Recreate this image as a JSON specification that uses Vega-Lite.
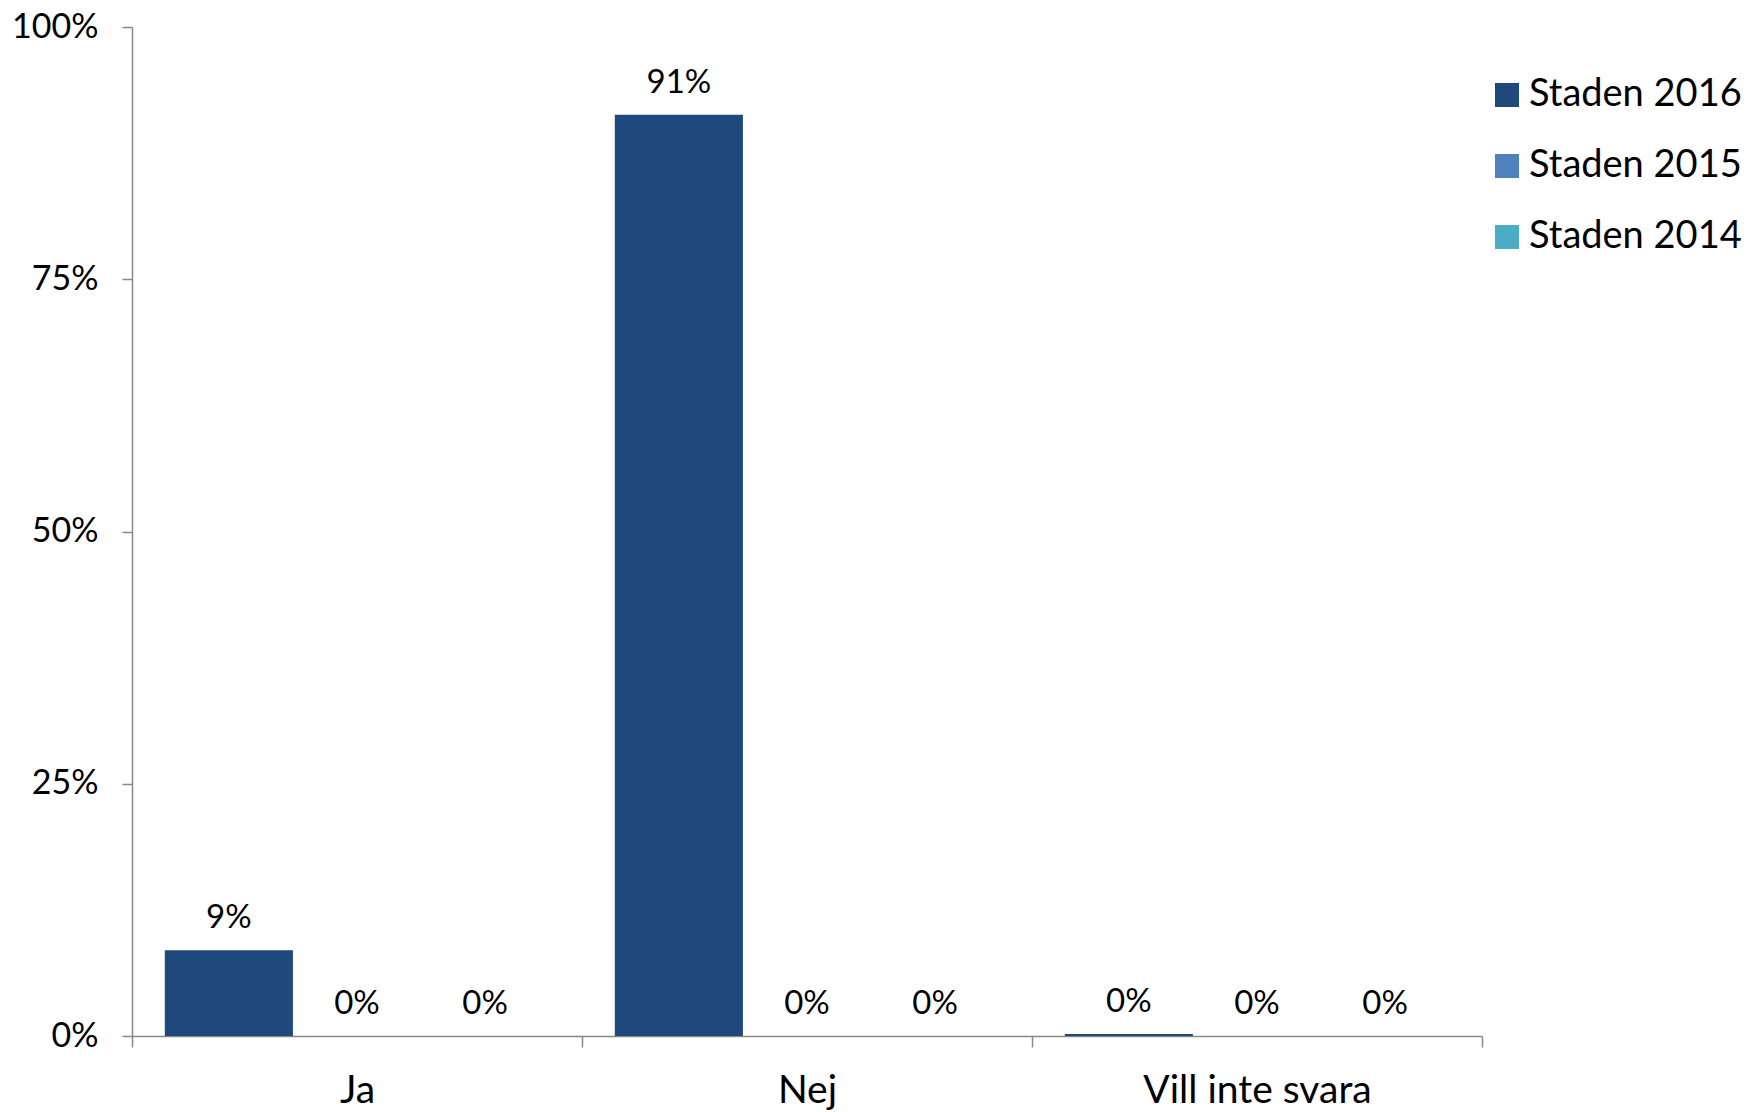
{
  "$schema": "https://vega.github.io/schema/vega-lite/v6.json",
  "width": 1350,
  "height": 1009,
  "padding": {"left": 132, "top": 27, "right": 268, "bottom": 76},
  "autosize": {"type": "none"},
  "background": "white",
  "config": {
    "view": {"stroke": null},
    "font": "Lato",
    "axis": {"domainColor": "#898989", "tickColor": "#898989", "domainWidth": 1.5, "tickWidth": 1.5, "labelColor": "#000000", "grid": false, "title": null, "labelLimit": 0}
  },
  "data": {
    "values": [
      {"svar": "Ja", "serie": "Staden 2016", "andel": 0.085, "etikett": "9%"},
      {"svar": "Ja", "serie": "Staden 2015", "andel": 0, "etikett": "0%"},
      {"svar": "Ja", "serie": "Staden 2014", "andel": 0, "etikett": "0%"},
      {"svar": "Nej", "serie": "Staden 2016", "andel": 0.913, "etikett": "91%"},
      {"svar": "Nej", "serie": "Staden 2015", "andel": 0, "etikett": "0%"},
      {"svar": "Nej", "serie": "Staden 2014", "andel": 0, "etikett": "0%"},
      {"svar": "Vill inte svara", "serie": "Staden 2016", "andel": 0.002, "etikett": "0%"},
      {"svar": "Vill inte svara", "serie": "Staden 2015", "andel": 0, "etikett": "0%"},
      {"svar": "Vill inte svara", "serie": "Staden 2014", "andel": 0, "etikett": "0%"}
    ]
  },
  "encoding": {
    "x": {
      "field": "svar", "type": "nominal", "sort": ["Ja", "Nej", "Vill inte svara"],
      "scale": {"paddingInner": 0, "paddingOuter": 0},
      "axis": {"labelAngle": 0, "tickBand": "extent", "tickSize": 11, "labelPadding": 24, "labelFontSize": 39, "labelBaseline": "top"}
    },
    "xOffset": {"field": "serie", "type": "nominal", "sort": ["Staden 2016", "Staden 2015", "Staden 2014"], "scale": {"paddingInner": 0, "paddingOuter": 0.256}},
    "y": {
      "field": "andel", "type": "quantitative",
      "scale": {"domain": [0, 1]},
      "axis": {"values": [0, 0.25, 0.5, 0.75, 1], "format": ".0%", "tickSize": 10, "labelPadding": 24, "labelFontSize": 34}
    }
  },
  "layer": [
    {
      "mark": {"type": "bar"},
      "encoding": {
        "color": {
          "field": "serie", "type": "nominal", "sort": ["Staden 2016", "Staden 2015", "Staden 2014"],
          "scale": {"domain": ["Staden 2016", "Staden 2015", "Staden 2014"], "range": ["#1F497D", "#4F81BD", "#4BACC6"]},
          "legend": {"title": null, "orient": "none", "legendX": 1356, "legendY": 49, "symbolType": "square", "symbolSize": 576, "symbolStrokeWidth": 0, "labelFontSize": 38, "labelColor": "#000000", "rowPadding": 33, "labelOffset": 3, "labelLimit": 0}
        }
      }
    },
    {
      "mark": {"type": "text", "dy": -32, "fontSize": 33, "baseline": "middle", "color": "#000000"},
      "encoding": {"text": {"field": "etikett"}}
    }
  ]
}
